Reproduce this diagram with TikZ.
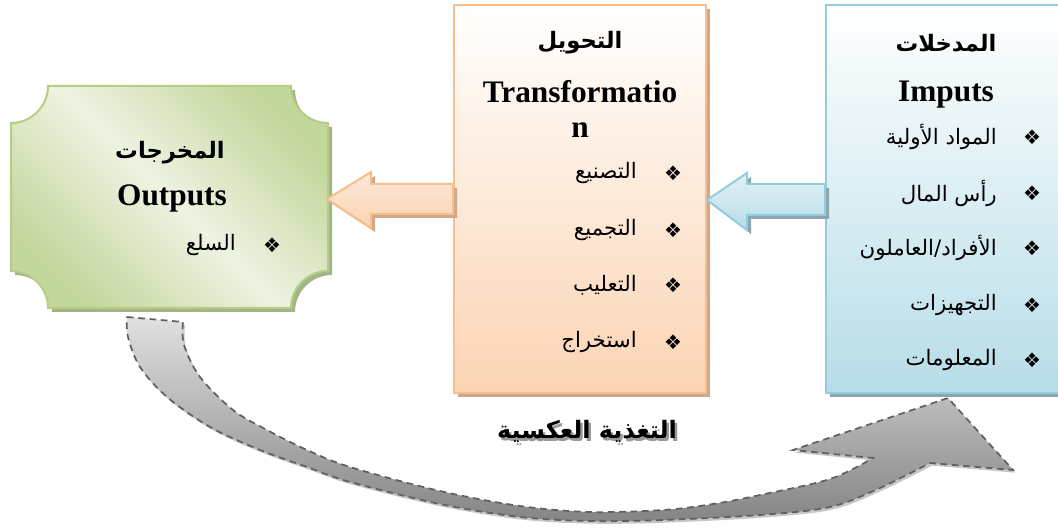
\documentclass[tikz,border=0pt]{standalone}
\usepackage{fontspec}
\setmainfont{Liberation Serif}
\newfontfamily\arabicfont[Script=Arabic]{DejaVu Sans}
\newfontfamily\dingfont{DejaVu Sans}
\TeXXeTstate=1
\usetikzlibrary{shadows,calc}

\definecolor{greenDark}{HTML}{C3D69B}
\definecolor{greenLight}{HTML}{EEF3E2}
\definecolor{greenLine}{HTML}{B5CD85}
\definecolor{greenShadow}{HTML}{A3B487}
\definecolor{peach}{HTML}{FBD4B4}
\definecolor{peachTop}{HTML}{FDE8D8}
\definecolor{peachLine}{HTML}{F9BE8E}
\definecolor{peachShadow}{HTML}{CFA88C}
\definecolor{blueFill}{HTML}{B7DDE8}
\definecolor{blueTop}{HTML}{E2F1F5}
\definecolor{blueLine}{HTML}{92CDDC}
\definecolor{blueShadow}{HTML}{8DA5AC}
\definecolor{loopLine}{HTML}{606060}

% bold Arabic text with a soft grey drop shadow behind it
\newcommand\shadowedlabel[1]{%
  \makebox[0pt][l]{\hspace*{1.9pt}\raisebox{-1.9pt}{\textcolor{black!40}{\beginR #1\endR}}}%
  \beginR #1\endR}

\tikzset{
  boxshadow/.style={drop shadow={shadow xshift=3pt, shadow yshift=-3pt, opacity=1, fill=#1}},
  hdr/.style={font=\arabicfont\bfseries\fontsize{17}{20}\selectfont, inner sep=0pt},
  fbhdr/.style={font=\arabicfont\bfseries\fontsize{18}{21}\selectfont, inner sep=0pt},
  latinhdr/.style={font=\bfseries\fontsize{23.5}{28}\selectfont, inner sep=0pt},
  item/.style={font=\arabicfont\fontsize{16}{19}\selectfont, anchor=east, inner sep=0pt},
  bul/.style={font=\dingfont\fontsize{15}{18}\selectfont, inner sep=0pt},
  transbox/.style={rectangle, draw=peachLine, line width=1.5pt, top color=white, bottom color=peach,
    minimum width=189pt, minimum height=291pt, boxshadow=peachShadow},
  inbox/.style={rectangle, draw=blueLine, line width=1.5pt, top color=white, bottom color=blueFill,
    minimum width=190.5pt, minimum height=291pt, boxshadow=blueShadow},
  peacharrow/.style={draw=peachLine, line width=1.5pt, top color=peachTop, bottom color=peach, boxshadow=peachShadow},
  bluearrow/.style={draw=blueLine, line width=1.5pt, top color=blueTop, bottom color=blueFill, boxshadow=blueShadow},
}

\begin{document}
\begin{tikzpicture}[x=0.75pt, y=-0.75pt]
\useasboundingbox (0,0) rectangle (1058,530);

% feedback loop: curved block arrow from the outputs back to the inputs
\path[draw=loopLine, line width=1.3pt, dash pattern=on 5pt off 3.5pt,
      top color=black!12, bottom color=black!48,
      drop shadow={shadow xshift=1.5pt, shadow yshift=-2pt, opacity=1, fill=black!22}]
  (127,317) -- plot[smooth, tension=0.55] coordinates {(183,322) (184,345) (200,377) (233,410) (267,430) (307,450) (350,467) (440,491) (520,506) (590,512) (663,510) (713,504) (760,495) (830,479) (873,458)}
  -- (793,450) -- (948,398) -- (1013,470)
  -- plot[smooth, tension=0.55] coordinates {(930,463) (880,488) (830,507) (760,515) (663,520) (590,521) (520,517) (440,504) (350,482) (307,467) (260,450) (210,427) (167,397) (140,367) (128,337) (127,317)}
  -- cycle;

% outputs box with concave corners
\path[draw=greenLine, line width=1.5pt, top color=greenDark, bottom color=greenDark, middle color=greenLight,
      shading angle=-45, boxshadow=greenShadow]
  (48,86) -- (291,86) .. controls (291,106.4) and (307.6,123) .. (328,123)
  -- (328,271) .. controls (307.6,271) and (291,287.6) .. (291,308)
  -- (48,308) .. controls (48,287.6) and (31.4,271) .. (11,271)
  -- (11,123) .. controls (31.4,123) and (48,106.4) .. (48,86) -- cycle;
\coordinate (outputs) at (169.5,197);

% transformation and inputs boxes
\node[transbox] (trans) at (580,199) {};
\node[inbox] (inputs) at (953,199) {};

% block arrows between the boxes
\draw[peacharrow] ($(trans.west)+(0,-15)$) -- ($(trans.west)+(-82,-15)$) -- ($(trans.west)+(-82,-27)$)
  -- ($(trans.west)+(-126,0)$) -- ($(trans.west)+(-82,29)$) -- ($(trans.west)+(-82,15)$)
  -- ($(trans.west)+(0,15)$) -- cycle;
\draw[bluearrow] ($(inputs.west)+(0,-15)$) -- ($(inputs.west)+(-78,-15)$) -- ($(inputs.west)+(-78,-26)$)
  -- ($(inputs.west)+(-118,1)$) -- ($(inputs.west)+(-78,31)$) -- ($(inputs.west)+(-78,16)$)
  -- ($(inputs.west)+(0,16)$) -- cycle;

% outputs text
\node[hdr] (outAr) at (170,153) {\beginR المخرجات\endR};
\node[latinhdr] (outEn) at (172,198) {Outputs};
\node[bul] (outB1) at (272,245) {❖};
\node[item] (outI1) at (236,245) {\beginR السلع\endR};

% transformation text
\node[hdr] (trAr) at (580,43) {\beginR التحويل\endR};
\node[latinhdr] (trEn) at (580,92) {Transformatio};
\node[latinhdr] (trEn2) at (580,130) {n};
\node[bul] (trB1) at (673,173) {❖};
\node[bul] (trB2) at (673,230) {❖};
\node[bul] (trB3) at (673,285) {❖};
\node[bul] (trB4) at (673,342) {❖};
\node[item] (trI1) at (637,173) {\beginR التصنيع\endR};
\node[item] (trI2) at (637,230) {\beginR التجميع\endR};
\node[item] (trI3) at (637,285) {\beginR التعليب\endR};
\node[item] (trI4) at (637,342) {\beginR استخراج\endR};

% inputs text
\node[hdr] (inAr) at (946,43) {\beginR المدخلات\endR};
\node[latinhdr] (inEn) at (946,95) {Imputs};
\node[bul] (inB1) at (1032,137) {❖};
\node[bul] (inB2) at (1032,193) {❖};
\node[bul] (inB3) at (1032,248) {❖};
\node[bul] (inB4) at (1032,305) {❖};
\node[bul] (inB5) at (1032,360) {❖};
\node[item] (inI1) at (997,137) {\beginR المواد الأولية\endR};
\node[item] (inI2) at (997,193) {\beginR رأس المال\endR};
\node[item] (inI3) at (997,248) {\beginR الأفراد/العاملون\endR};
\node[item] (inI4) at (997,305) {\beginR التجهيزات\endR};
\node[item] (inI5) at (997,360) {\beginR المعلومات\endR};

% feedback label
\node[fbhdr] (fbLabel) at (587,433) {\shadowedlabel{التغذية العكسية}};
\end{tikzpicture}
\end{document}
